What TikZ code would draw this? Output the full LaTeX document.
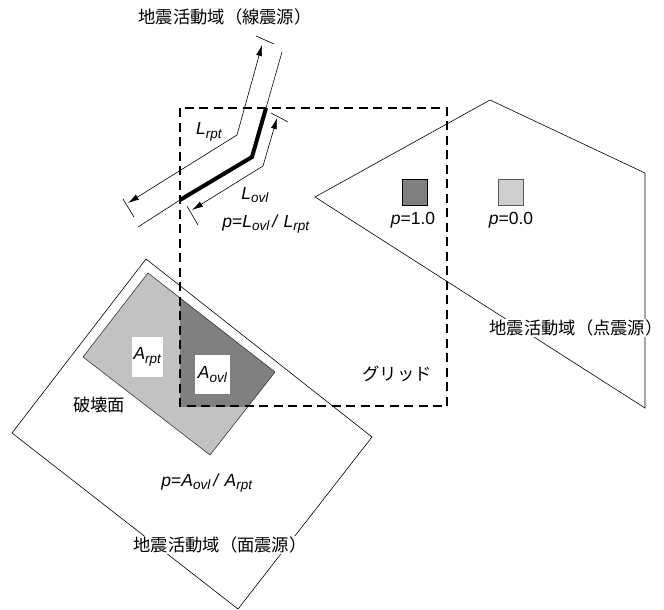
\documentclass[tikz,border=0pt]{standalone}
\usepackage{fontspec}
\setmainfont{Liberation Sans}
\newfontfamily\cjk{Noto Sans CJK JP}
\usetikzlibrary{arrows.meta}
\newcommand\lsub[2]{\textit{#1}\raisebox{-0.2em}{\fontsize{13.5}{14}\selectfont\textit{#2}}}
\tikzset{
  thinline/.style={line width=0.6pt, black},
  gridline/.style={line width=1.8pt, dash pattern=on 9pt off 5.5pt},
  dimarrow/.style={line width=0.6pt, {Latex[length=11pt,width=6pt]}-{Latex[length=11pt,width=6pt]}},
  cjklabel/.style={font=\cjk\fontsize{17.3}{20}\selectfont, inner sep=1pt},
  symlabel/.style={font=\fontsize{17.5}{20}\selectfont, inner sep=1pt},
  whitebox/.style={fill=white, draw=none, inner sep=0pt, font=\fontsize{17.5}{20}\selectfont},
}
\definecolor{lightg}{gray}{0.76}
\definecolor{darkg}{gray}{0.5}
\begin{document}
\begin{tikzpicture}[x=1pt,y=-1pt]
\useasboundingbox[fill=white] (0,0) rectangle (664,610);
% area source polygon
\coordinate (aT) at (146,259);
\coordinate (aR) at (372,437);
\coordinate (aB) at (238,609);
\coordinate (aL) at (12,433);
\draw[thinline] (aT) -- (aR) -- (aB) -- (aL) -- cycle;
% point source polygon
\coordinate (pL) at (315,197);
\coordinate (pT) at (490,100);
\coordinate (pR) at (645,173);
\coordinate (pB) at (645,408);
\draw[thinline] (pL) -- (pT) -- (pR) -- (pB) -- cycle;
% rupture plane
\coordinate (rT) at (148,273);
\coordinate (rR) at (275,372);
\coordinate (rB) at (210,455);
\coordinate (rL) at (83,357);
\fill[lightg] (rT) -- (rR) -- (rB) -- (rL) -- cycle;
\begin{scope}
  \clip (180,108) rectangle (447,406);
  \fill[darkg] (rT) -- (rR) -- (rB) -- (rL) -- cycle;
\end{scope}
\draw[line width=0.6pt, gray!45!black] (rT) -- (rR) -- (rB) -- (rL) -- cycle;
% white label boxes
\node[whitebox, minimum width=31pt, minimum height=40pt] (arpt) at (147.5,357) {\lsub{A}{rpt}};
\node[whitebox, minimum width=35pt, minimum height=39pt] (aovl) at (212.5,374.5) {\lsub{A}{ovl}};
% grid
\coordinate (gTL) at (180,108);
\coordinate (gBR) at (447,406);
\draw[gridline] (gTL) rectangle (gBR);
% grid squares
\node[draw=black, line width=0.5pt, fill=darkg, minimum width=25pt, minimum height=26pt, inner sep=0pt] (sq1) at (414.5,192) {};
\node[draw=gray!70!black, line width=0.5pt, fill=lightg!80!white, minimum width=25pt, minimum height=26pt, inner sep=0pt] (sq0) at (510.5,192) {};
\node[symlabel] (p1) at (413,220) {\textit{p}=1.0};
\node[symlabel] (p0) at (511,220) {\textit{p}=0.0};
% line source
\coordinate (f0) at (138,227);
\coordinate (f1) at (180,200);
\coordinate (fb) at (252,157);
\coordinate (f2) at (266,108);
\coordinate (f3) at (282,52);
\draw[thinline] (f0) -- (f1);
\draw[thinline] (f2) -- (f3);
\draw[line width=4pt, line join=miter] (f1) -- (fb) -- (f2);
% L_rpt dimension
\coordinate (ra) at (128,203);
\coordinate (rb) at (237,135);
\coordinate (rc) at (262,45);
\draw[dimarrow] (ra) -- (rb) -- (rc);
\coordinate (rta1) at (123,199);
\coordinate (rta2) at (134,217);
\draw[thinline] (rta1) -- (rta2);
\coordinate (rtb1) at (256,36);
\coordinate (rtb2) at (274,44);
\draw[thinline] (rtb1) -- (rtb2);
% L_ovl dimension
\coordinate (oa) at (192,210);
\coordinate (ob) at (263,166);
\coordinate (oc) at (277,118);
\draw[dimarrow] (oa) -- (ob) -- (oc);
\coordinate (ota1) at (187,206);
\coordinate (ota2) at (198,225);
\draw[thinline] (ota1) -- (ota2);
\coordinate (otb1) at (271,113);
\coordinate (otb2) at (288,122);
\draw[thinline] (otb1) -- (otb2);
% labels
\node[symlabel] (lrpt) at (209,132) {\lsub{L}{rpt}};
\node[symlabel] (lovl) at (255,195) {\lsub{L}{ovl}};
\node[symlabel] (pl) at (266,224) {\textit{p}=\lsub{L}{ovl}\,\textit{/} \lsub{L}{rpt}};
\node[symlabel] (pa) at (207,483) {\textit{p}=\lsub{A}{ovl}\,\textit{/} \lsub{A}{rpt}};
\node[cjklabel] (tline) at (225,17) {地震活動域（線震源）};
\node[cjklabel, fill=white] (tpoint) at (576,328) {地震活動域（点震源）};
\node[cjklabel, fill=white] (tarea) at (220,545) {地震活動域（面震源）};
\node[cjklabel] (trup) at (99,405) {破壊面};
\node[cjklabel] (tgrid) at (397,374) {グリッド};
\end{tikzpicture}
\end{document}
